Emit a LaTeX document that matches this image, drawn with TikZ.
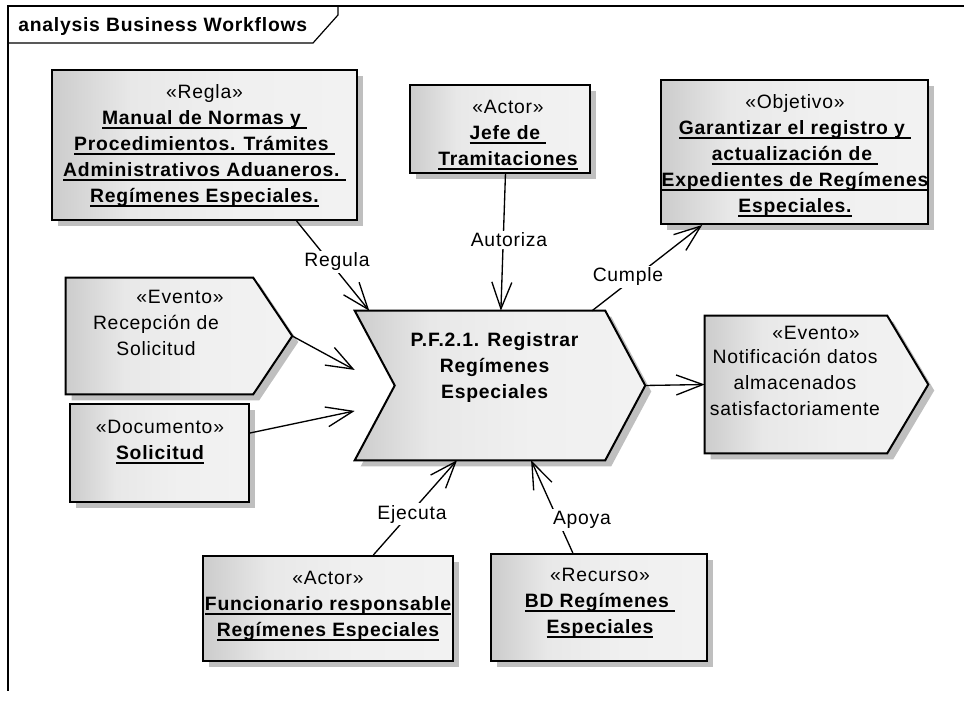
\documentclass[tikz,border=0pt]{standalone}
\usepackage{fontspec}
\setmainfont{Liberation Sans}[LetterSpace=4]
\usetikzlibrary{arrows.meta,fit,calc,shadows}
\pgfdeclarehorizontalshading{boxsh}{100bp}{color(0bp)=(black!20); color(25bp)=(black!20); color(38bp)=(black!9); color(55bp)=(black!6); color(75bp)=(black!5); color(100bp)=(black!5)}
\newsavebox\ulbx
\newcommand\ulx[1]{\sbox\ulbx{#1}\rlap{\rule[-3pt]{\wd\ulbx}{1.1pt}}\usebox\ulbx}
\newcommand\ub[1]{\strut\textbf{\ulx{#1}}}
\begin{document}
\begin{tikzpicture}[x=0.75pt, y=-0.75pt,
  shp/.style={draw=black, line width=1.5pt, shading=boxsh, general shadow={fill=black!25, shadow xshift=4.5pt, shadow yshift=-4.5pt}},
  box/.style={shp, rectangle, inner sep=0pt},
  area/.style={rectangle, inner sep=0pt},
  txt/.style={inner sep=0pt, align=center, anchor=north, font=\fontsize{14.5}{19.5}\selectfont},
  lbl/.style={fill=white, inner sep=1.5pt, font=\fontsize{14.5}{17}\selectfont},
  conn/.style={line width=1pt, -{Straight Barb[length=20pt,width=15pt,line width=1pt]}},
  frm/.style={line width=0.9pt}
]
\useasboundingbox (0,0) rectangle (964,702);
% frame
\draw[frm] (964,6) -- (8,6) -- (8,691);
\draw[frm] (8,43) -- (313,43) -- (338,15) -- (338,6);
\node[anchor=base west, inner sep=0pt, font=\fontsize{14.5}{17}\selectfont\bfseries] (title) at (18,32) {analysis Business Workflows};

% rectangular elements
\node[box, fit={(52,70) (357,220)}] (regla) {};
\node[box, fit={(410,85) (590,173)}] (jefe) {};
\node[box, fit={(661,80) (928,224)}] (obj) {};
\node[box, fit={(70,404) (249,502)}] (doc) {};
\node[box, fit={(203,556) (453,661)}] (func) {};
\node[box, fit={(491,554) (707,661)}] (bd) {};

% process chevron
\node[area, fit={(355,311) (645,460)}] (proc) {};
\path[shp] (proc.north west) -- ($(proc.north east)+(-40,0)$) -- (proc.east) -- ($(proc.south east)+(-40,0)$) -- (proc.south west) -- ($(proc.west)+(40,0)$) -- cycle;

% events
\node[area, fit={(66,278) (292,394)}] (recep) {};
\path[shp] (recep.north west) -- ($(recep.north east)+(-39,0)$) -- (recep.east) -- ($(recep.south east)+(-39,0)$) -- (recep.south west) -- cycle;
\node[area, fit={(705,316) (928,453)}] (notif) {};
\path[shp] (notif.north west) -- ($(notif.north east)+(-41,0)$) -- (notif.east) -- ($(notif.south east)+(-41,0)$) -- (notif.south west) -- cycle;

% texts
\node[txt] (reglat) at (204.5,80.3) {\strut«Regla»\\ \ub{Manual de Normas y\ }\\ \ub{Procedimientos. Trámites\ }\\ \ub{Administrativos Aduaneros.\ }\\ \ub{Regímenes Especiales.}};
\node[txt] (jefet) at (508,95.3) {\strut«Actor»\\ \ub{Jefe de\ }\\ \ub{Tramitaciones}};
\node[txt] (objt) at (795,90.3) {\strut«Objetivo»\\ \ub{Garantizar el registro y\ }\\ \ub{actualización de\ }\\ \ub{Expedientes de Regímenes}\\ \ub{Especiales.}};
\node[txt] (proct) at (495,328.3) {\strut\textbf{P.F.2.1. Registrar}\\ \strut\textbf{Regímenes}\\ \strut\textbf{Especiales}};
\node[txt] (recepst) at (180,285.3) {\strut«Evento»};
\node[txt] (recept) at (156,311.3) {\strut Recepción de\\ \strut Solicitud};
\node[txt] (doct) at (160,415.3) {\strut«Documento»\\ \ub{Solicitud}};
\node[txt] (notifst) at (816,321.3) {\strut«Evento»};
\node[txt] (notift) at (795,345.3) {\strut Notificación datos\\ \strut almacenados\\ \strut satisfactoriamente};
\node[txt] (funct) at (328,566.3) {\strut«Actor»\\ \ub{Funcionario responsable}\\ \ub{Regímenes Especiales}};
\node[txt] (bdt) at (600,563.3) {\strut«Recurso»\\ \ub{BD Regímenes\ }\\ \ub{Especiales}};

% connectors
\draw[conn] ($(regla.south west)!0.8!(regla.south east)$) -- ($(proc.north west)!0.05!(proc.north east)$);
\draw[conn] ($(jefe.south west)!0.53!(jefe.south east)$) -- ($(proc.north west)!0.503!(proc.north east)$);
\draw[conn] ($(proc.north west)!0.817!(proc.north east)$) -- ($(obj.south west)!0.157!(obj.south east)$);
\draw[conn] (recep.east) -- ($(proc.north west)!0.396!(proc.south west)$);
\draw[conn] ($(doc.north east)!0.3!(doc.south east)$) -- ($(proc.north west)!0.67!(proc.south west)$);
\draw[conn] (proc.east) -- (notif.west);
\draw[conn] ($(func.north west)!0.68!(func.north east)$) -- ($(proc.south west)!0.352!(proc.south east)$);
\draw[conn] ($(bd.north west)!0.38!(bd.north east)$) -- ($(proc.south west)!0.607!(proc.south east)$);

% labels
\node[lbl] (lregula) at (337,262) {Regula};
\node[lbl] (lautoriza) at (509,240) {Autoriza};
\node[lbl] (lcumple) at (628,277) {Cumple};
\node[lbl] (lejecuta) at (412,514) {Ejecuta};
\node[lbl] (lapoya) at (582,520) {Apoya};
\end{tikzpicture}
\end{document}
